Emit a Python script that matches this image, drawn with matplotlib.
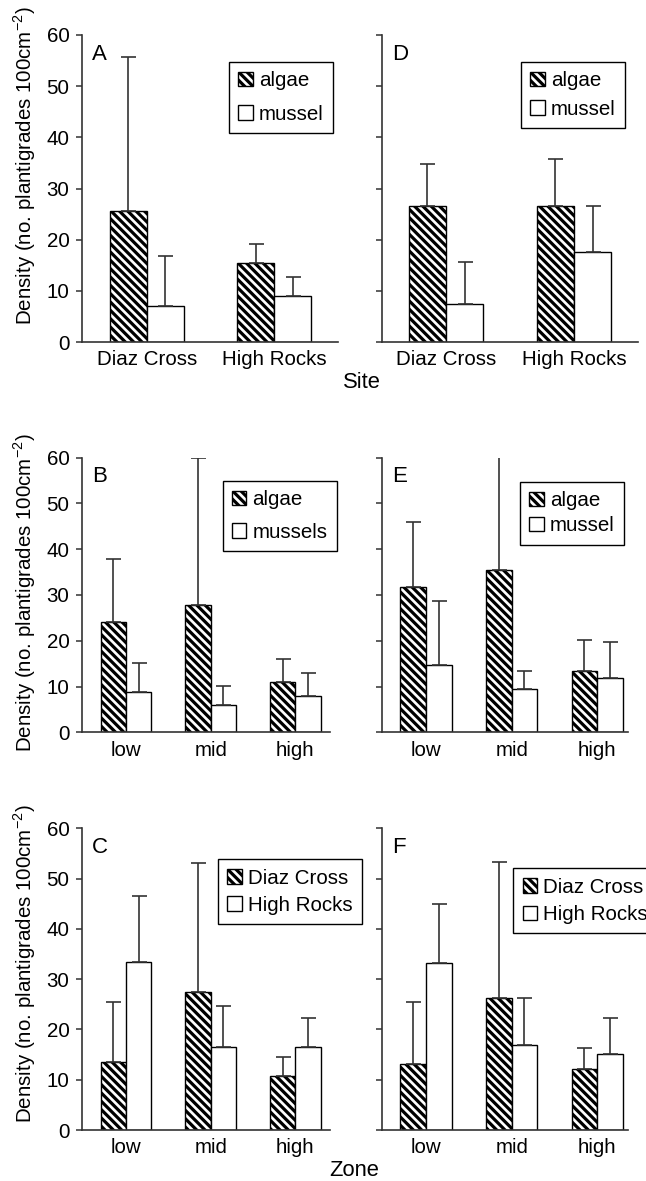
import numpy as np
import matplotlib
matplotlib.use("Agg")
import matplotlib.pyplot as plt

plt.rcParams['font.family'] = ['Liberation Sans', 'DejaVu Sans']
plt.rcParams['mathtext.fontset'] = 'custom'
plt.rcParams['mathtext.rm'] = 'Liberation Sans'
plt.rcParams['hatch.linewidth'] = 2.3
plt.rcParams['hatch.color'] = 'black'

# data (means and upper error bars)
sites = ['Diaz Cross', 'High Rocks']
zones = ['low', 'mid', 'high']

A_algae = [25.6, 15.4]
A_algae_se = [30.1, 3.7]
A_mussel = [7.1, 9.0]
A_mussel_se = [9.8, 3.8]

D_algae = [26.6, 26.6]
D_algae_se = [8.1, 9.1]
D_mussel = [7.4, 17.6]
D_mussel_se = [8.3, 9.0]

B_algae = [24.0, 27.9, 10.9]
B_algae_se = [13.8, 32.1, 5.1]
B_mussel = [8.8, 5.9, 8.0]
B_mussel_se = [6.3, 4.2, 5.0]

E_algae = [31.7, 35.5, 13.4]
E_algae_se = [14.3, 24.7, 6.8]
E_mussel = [14.7, 9.5, 11.8]
E_mussel_se = [14.0, 3.9, 7.9]

C_diaz = [13.5, 27.4, 10.8]
C_diaz_se = [11.9, 25.7, 3.8]
C_high = [33.5, 16.6, 16.6]
C_high_se = [13.0, 8.0, 5.7]

F_diaz = [13.2, 26.2, 12.1]
F_diaz_se = [12.3, 27.1, 4.2]
F_high = [33.2, 17.0, 15.1]
F_high_se = [11.8, 9.2, 7.2]

FS = 14.8
W, H = 646, 1181
fig = plt.figure(figsize=(W / 100, H / 100), dpi=100)


def px_axes(x0, x1, ytop, ybot):
    return fig.add_axes([x0 / W, 1 - ybot / H, (x1 - x0) / W, (ybot - ytop) / H])


def panel(ax, cats, v1, e1, v2, e2, labels, letter, leg_xy, lspace, width, xlim, show_y):
    x = np.arange(len(cats))
    ekw = dict(ecolor='#333333', elinewidth=1.2, capsize=5.4, capthick=1.2)
    ax.bar(x - width / 2, v1, width, yerr=[np.zeros(len(v1)), e1], color='white',
           edgecolor='black', hatch='\\\\\\\\', linewidth=1, error_kw=ekw, label=labels[0])
    ax.bar(x + width / 2, v2, width, yerr=[np.zeros(len(v2)), e2], color='white',
           edgecolor='black', linewidth=1, error_kw=ekw, label=labels[1])
    ax.set_xlim(*xlim)
    ax.set_ylim(0, 60)
    ax.set_yticks(range(0, 61, 10))
    ax.set_xticks(x)
    ax.set_xticklabels(cats, fontsize=FS)
    ax.tick_params(axis='x', length=0, pad=6)
    ax.tick_params(axis='y', direction='out', length=4, width=1.1, color='#333333',
                   labelsize=FS, pad=5, labelleft=show_y)
    for s in ['top', 'right']:
        ax.spines[s].set_visible(False)
    for s in ['left', 'bottom']:
        ax.spines[s].set_color('#333333')
        ax.spines[s].set_linewidth(1.2)
    ax.text(0.04, 0.97, letter, transform=ax.transAxes,
            fontsize=16, va='top', ha='left')
    leg = ax.legend(loc='upper left', bbox_to_anchor=leg_xy, borderaxespad=0,
                    fontsize=FS, fancybox=False, framealpha=1, edgecolor='black',
                    handlelength=0.7, handleheight=0.7, handletextpad=0.3,
                    borderpad=0.45, labelspacing=lspace)
    leg.get_frame().set_linewidth(1.0)
    return ax


axA = px_axes(82, 338, 35, 342)
panel(axA, sites, A_algae, A_algae_se, A_mussel, A_mussel_se, ['algae', 'mussel'],
      'A', (0.574, 0.912), 0.7, 0.29, (-0.51, 1.5), True)
axD = px_axes(382, 638, 35, 342)
panel(axD, sites, D_algae, D_algae_se, D_mussel, D_mussel_se, ['algae', 'mussel'],
      'D', (0.543, 0.912), 0.45, 0.29, (-0.5, 1.5), False)

axB = px_axes(82, 330, 457.7, 732.3)
panel(axB, zones, B_algae, B_algae_se, B_mussel, B_mussel_se, ['algae', 'mussels'],
      'B', (0.567, 0.915), 0.65, 0.3, (-0.52, 2.41), True)
axE = px_axes(382, 628, 457.7, 732.3)
panel(axE, zones, E_algae, E_algae_se, E_mussel, E_mussel_se, ['algae', 'mussel'],
      'E', (0.561, 0.912), 0.3, 0.3, (-0.515, 2.36), False)

axC = px_axes(82, 330, 828.3, 1130)
panel(axC, zones, C_diaz, C_diaz_se, C_high, C_high_se, ['Diaz Cross', 'High Rocks'],
      'C', (0.548, 0.897), 0.4, 0.3, (-0.52, 2.41), True)
axF = px_axes(382, 628, 828.3, 1130)
panel(axF, zones, F_diaz, F_diaz_se, F_high, F_high_se, ['Diaz Cross', 'High Rocks'],
      'F', (0.534, 0.867), 0.4, 0.3, (-0.515, 2.36), False)

ylab = 'Density (no. plantigrades 100cm$^{-2}$)'
for yc in [166, 593, 964]:
    fig.text(25 / W, 1 - yc / H, ylab, rotation=90, ha='center', va='center', fontsize=FS)

fig.text(362 / W, 1 - 383 / H, 'Site', ha='center', va='center', fontsize=FS + 1)
fig.text(354 / W, 1 - 1170 / H, 'Zone', ha='center', va='center', fontsize=FS + 1)

fig.savefig('out.png', dpi=100)
